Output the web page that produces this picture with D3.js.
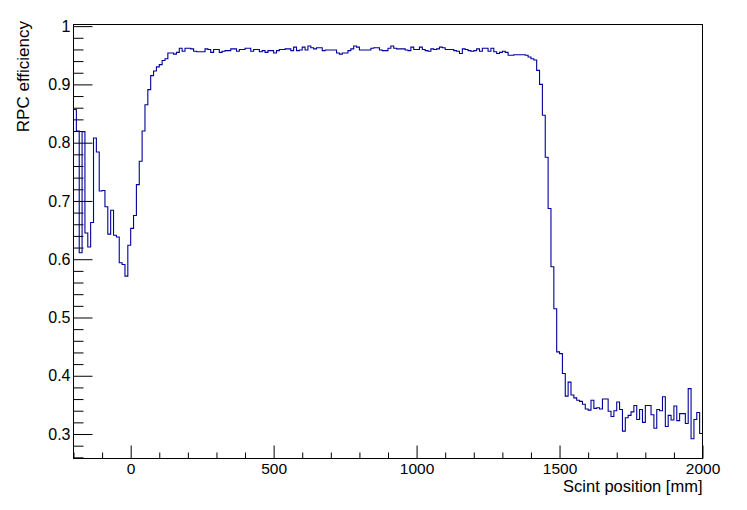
<!DOCTYPE html>
<html><head><meta charset="utf-8">
<script src="https://cdn.jsdelivr.net/npm/d3@7"></script>
<style>body{margin:0;background:#fff}svg{display:block}</style>
</head><body>
<svg id="c" width="747" height="510"></svg>
<script>
// ---- data ----
const binStart = -200;
const binWidth = 10;
const effLeft = [0.857,0.820,0.611,0.819,0.645,0.621,0.663,0.808,0.784,0.717,
  0.718,0.690,0.643,0.684,0.641,0.638,0.594,0.591,0.571,0.624,
  0.653,0.675,0.728,0.768,0.820,0.865,0.891,0.915,0.923,0.930,
  0.934,0.941,0.944,0.954,0.954,0.952,0.955,0.962,0.957,0.962];
const effPlateau = [0.962,0.961,0.957,0.956,0.956,0.956,0.961,0.960,0.955,0.960,
  0.960,0.955,0.957,0.958,0.958,0.961,0.961,0.957,0.960,0.960,
  0.962,0.962,0.957,0.960,0.960,0.956,0.958,0.955,0.958,0.958,
  0.954,0.958,0.960,0.960,0.961,0.961,0.958,0.964,0.958,0.959,
  0.964,0.959,0.966,0.963,0.961,0.963,0.963,0.958,0.959,0.959,
  0.959,0.959,0.954,0.952,0.954,0.954,0.958,0.961,0.966,0.964,
  0.959,0.959,0.959,0.959,0.962,0.963,0.963,0.959,0.958,0.958,
  0.962,0.966,0.962,0.961,0.961,0.961,0.959,0.958,0.964,0.960,
  0.960,0.964,0.960,0.958,0.957,0.961,0.960,0.961,0.964,0.963,
  0.960,0.960,0.960,0.958,0.957,0.953,0.961,0.960,0.958,0.957,
  0.958,0.961,0.957,0.962,0.962,0.957,0.962,0.956,0.953,0.955,
  0.957,0.955,0.950,0.950,0.951,0.951,0.951,0.951,0.950,0.947];
const effDrop = [0.944,0.942,0.924,0.900,0.847,0.775,0.687,0.587,0.515,0.441];
const effTail = [0.438,0.404,0.365,0.389,0.367,0.362,0.358,0.356,0.351,0.343,
  0.341,0.358,0.344,0.345,0.343,0.360,0.360,0.339,0.330,0.340,
  0.355,0.342,0.305,0.328,0.332,0.338,0.349,0.325,0.342,0.320,
  0.349,0.349,0.333,0.310,0.342,0.340,0.364,0.313,0.332,0.324,
  0.348,0.323,0.335,0.335,0.318,0.378,0.292,0.325,0.337,0.301];
const xMajorTicks = [0, 500, 1000, 1500, 2000];
const xMinorTicks = [-200,-100,100,200,300,400,600,700,800,900,1100,1200,1300,1400,1600,1700,1800,1900];
const yMajorTicks = [0.3, 0.4, 0.5, 0.6, 0.7, 0.8, 0.9, 1.0];
const yTickLabels = ["0.3","0.4","0.5","0.6","0.7","0.8","0.9","1"];
const xTitle = "Scint position [mm]";
const yTitle = "RPC efficiency";

// ---- chart ----
const eff = effLeft.concat(effPlateau, effDrop, effTail);
const bins = eff.map((v, i) => ({x0: binStart + i * binWidth, x1: binStart + (i + 1) * binWidth, v}));
const xMax = binStart + eff.length * binWidth;

const L = 73.5, R = 702.5, T = 24.5, B = 458.5;
const x = d3.scaleLinear().domain([binStart, xMax]).range([L, R]);
const y = d3.scaleLinear().domain([0.258, 1.0028]).range([B, T]);

const svg = d3.select("#c");
svg.append("rect").attr("width", 747).attr("height", 510).attr("fill", "#fff");
const font = "'Liberation Sans', Arial, Helvetica, sans-serif";

const yMinor = d3.range(0.26, 1.001, 0.02).map(v => +v.toFixed(2)).filter(v => !yMajorTicks.some(m => Math.abs(m - v) < 1e-6));

// minor y ticks
svg.append("g").attr("transform", `translate(${L},0)`)
  .call(d3.axisLeft(y).tickValues(yMinor).tickSizeInner(-10).tickSizeOuter(0).tickFormat(""))
  .call(g => g.select(".domain").remove());
// major y ticks
const gy = svg.append("g").attr("transform", `translate(${L},0)`)
  .call(d3.axisLeft(y).tickValues(yMajorTicks).tickSizeInner(-19).tickSizeOuter(0).tickPadding(3)
    .tickFormat((d, i) => yTickLabels[i]))
  .call(g => g.select(".domain").remove());
gy.selectAll("text").attr("font-family", font).attr("font-size", 16).attr("fill", "#000");

// minor x ticks
svg.append("g").attr("transform", `translate(0,${B})`)
  .call(d3.axisBottom(x).tickValues(xMinorTicks).tickSizeInner(-6).tickSizeOuter(0).tickFormat(""))
  .call(g => g.select(".domain").remove());
const gx = svg.append("g").attr("transform", `translate(0,${B})`)
  .call(d3.axisBottom(x).tickValues(xMajorTicks).tickSizeInner(-13).tickSizeOuter(0).tickPadding(4)
    .tickFormat(d3.format("d")))
  .call(g => g.select(".domain").remove());
gx.selectAll("text").attr("font-family", font).attr("font-size", 15.5).attr("fill", "#000");
svg.selectAll(".tick line").attr("stroke", "#000");

// histogram
const pts = [];
bins.forEach(b => { pts.push([b.x0, b.v]); pts.push([b.x1, b.v]); });
const line = d3.line().x(d => x(d[0])).y(d => y(d[1]));
svg.append("path").attr("d", line(pts)).attr("fill", "none")
  .attr("stroke", "#000099").attr("stroke-width", 1.1);

// frame
svg.append("rect").attr("x", L).attr("y", T).attr("width", R - L).attr("height", B - T)
  .attr("fill", "none").attr("stroke", "#000").attr("stroke-width", 1);

// titles
svg.append("text").attr("x", R).attr("y", 492).attr("text-anchor", "end")
  .attr("font-family", font).attr("font-size", 16.5).attr("fill", "#000").text(xTitle);
svg.append("text").attr("transform", `translate(28.5,21) rotate(-90)`).attr("text-anchor", "end")
  .attr("font-family", font).attr("font-size", 17).attr("fill", "#000").text(yTitle);
</script>
</body></html>
